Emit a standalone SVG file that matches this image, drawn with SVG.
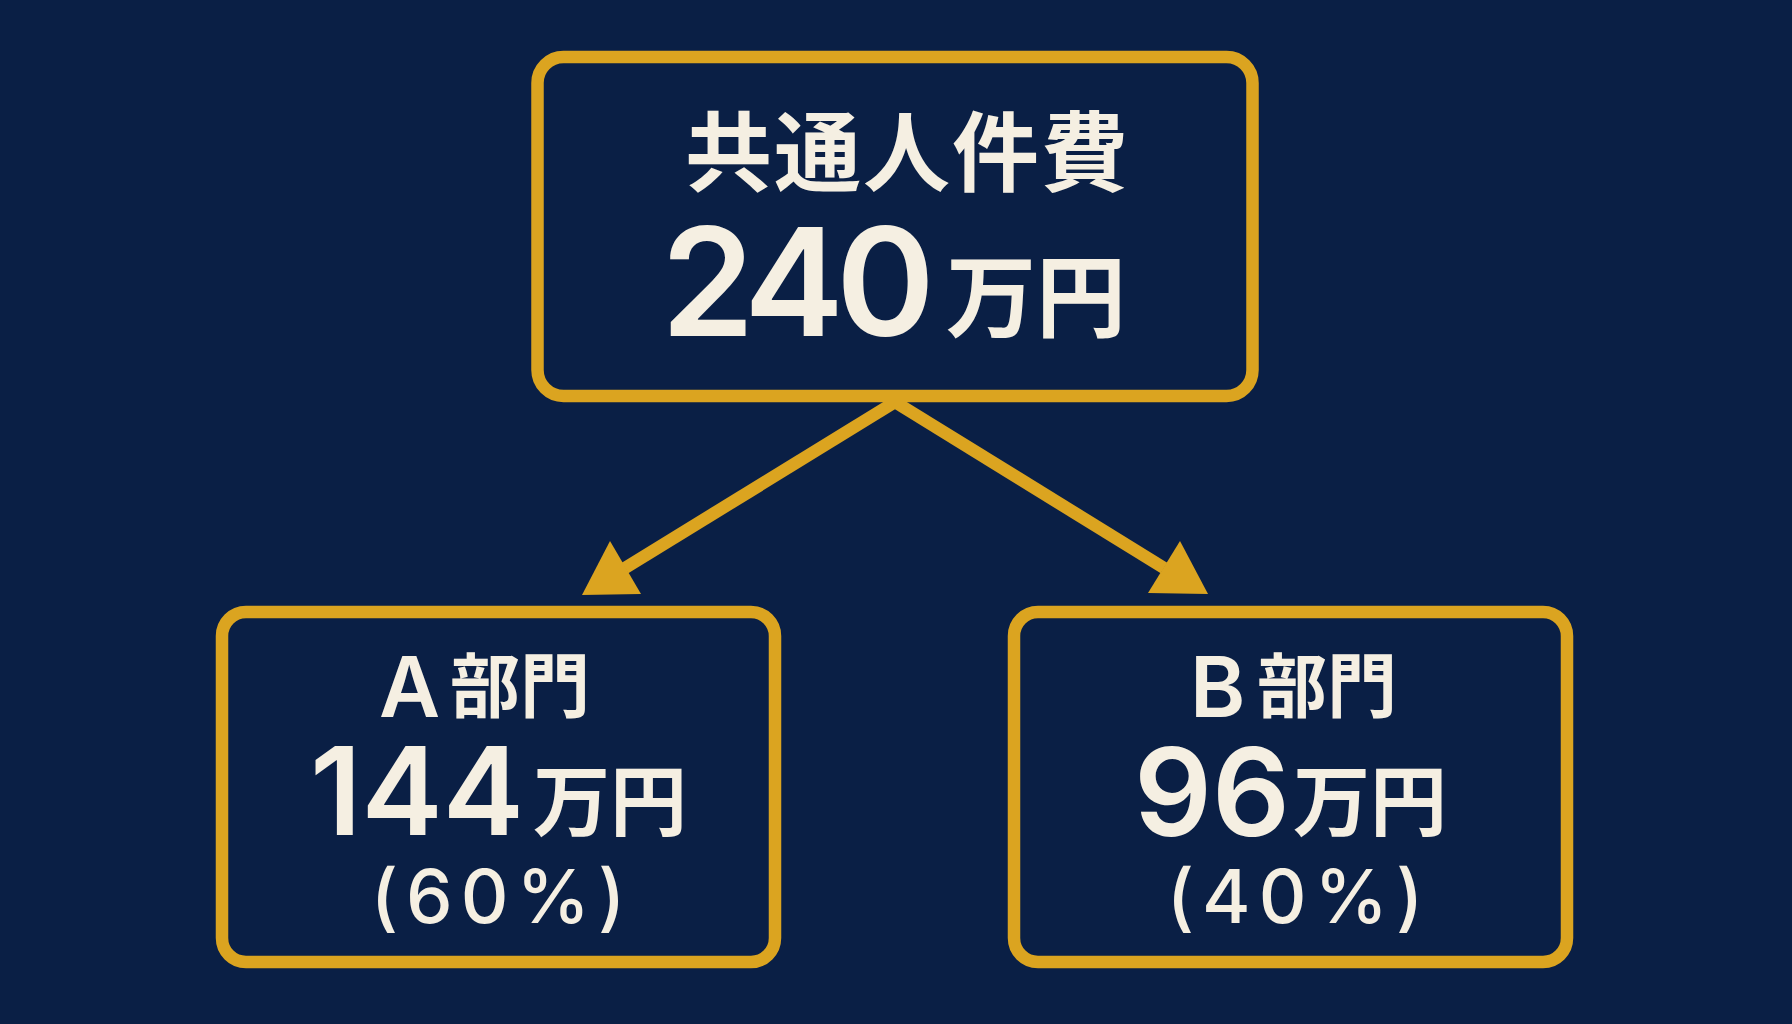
<svg xmlns="http://www.w3.org/2000/svg" width="1792" height="1024" viewBox="0 0 1792 1024">
<style>
.box{fill:#0a1f45;stroke:#dba420;stroke-width:12.5}
.t{fill:#f5efe2}
.cjk{font-family:"Noto Sans CJK JP","Noto Sans",sans-serif;font-weight:700}
.num{font-family:Inter,"Liberation Sans",sans-serif;font-weight:600}
.pct{font-family:Inter,"Liberation Sans",sans-serif;font-weight:500}
.conn{stroke:#dba420;stroke-width:12.5;fill:none}
.head{fill:#dba420}
</style>
<rect width="1792" height="1024" fill="#0a1f45"/>
<g id="connectors">
<line class="conn" x1="895" y1="402" x2="625" y2="568"/>
<polygon class="head" points="582,595 610,541 641,594"/>
<line class="conn" x1="895" y1="402" x2="1164" y2="568"/>
<polygon class="head" points="1148,593 1180,541 1208,594"/>
</g>
<g id="node-total">
<rect class="box" x="537.5" y="57" width="715" height="339" rx="26"/>
<text class="t cjk" x="685" y="185" font-size="87" letter-spacing="2">共通人件費</text>
<text class="t" x="661" y="336"><tspan class="num" font-size="150" letter-spacing="-8">240</tspan><tspan class="cjk" x="946" dy="-6" font-size="90">万円</tspan></text>
</g>
<g id="node-a">
<rect class="box" x="222" y="612" width="553" height="350" rx="24"/>
<text class="t" x="379" y="717"><tspan class="num" font-size="84">A</tspan><tspan class="cjk" x="450" dy="-5" font-size="70">部門</tspan></text>
<text class="t" x="310" y="835"><tspan class="num" font-size="122">144</tspan><tspan class="cjk" x="533" dy="-5" font-size="77">万円</tspan></text>
<text class="t pct" x="502" y="923" font-size="74" text-anchor="middle" letter-spacing="8">(60%)</text>
</g>
<g id="node-b">
<rect class="box" x="1014" y="612" width="553" height="350" rx="24"/>
<text class="t" x="1190" y="717"><tspan class="num" font-size="84">B</tspan><tspan class="cjk" x="1257" dy="-5" font-size="70">部門</tspan></text>
<text class="t" x="1134" y="836"><tspan class="num" font-size="122">96</tspan><tspan class="cjk" x="1293" dy="-6" font-size="77">万円</tspan></text>
<text class="t pct" x="1299" y="923" font-size="74" text-anchor="middle" letter-spacing="8">(40%)</text>
</g>
</svg>
